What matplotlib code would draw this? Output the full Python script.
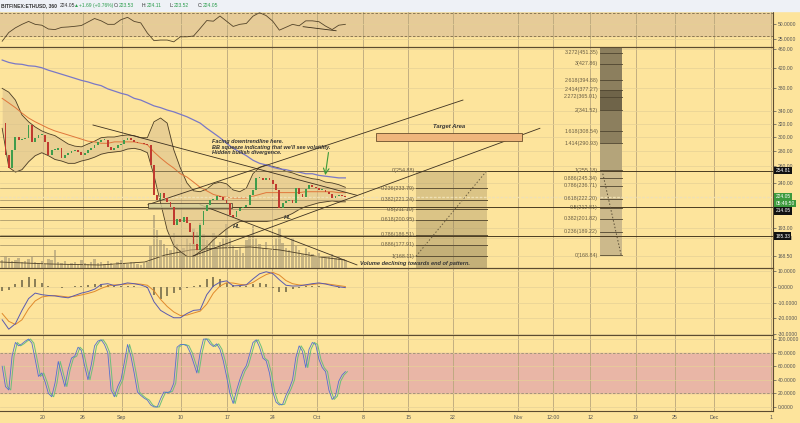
import matplotlib
matplotlib.use('Agg')
import matplotlib.pyplot as plt
import matplotlib.transforms as mtransforms
from matplotlib.patches import Rectangle
from matplotlib.ticker import FixedLocator, FixedFormatter, NullLocator
import numpy as np

plt.rcParams['font.family'] = ['Liberation Sans', 'DejaVu Sans']

# ---------------- data ----------------
# 12h candles, day 0 = Sep 1
closes = [321, 275, 258, 282, 300, 296, 297, 299, 318, 293,
          299, 303, 303, 293, 275, 282, 282, 284, 271, 275,
          278, 280, 282, 279, 275, 278, 282, 285, 289, 293,
          296, 296, 286, 282, 285, 288, 290, 296, 299, 296,
          293, 291, 291, 290, 288, 262, 226, 221, 229, 223,
          219, 214, 196, 201, 199, 203, 198, 189, 178, 173,
          196, 209, 216, 221, 221, 225, 224, 221, 218, 205,
          203, 209, 213, 214, 216, 226, 232, 246, 246, 244,
          246, 243, 239, 232, 213, 218, 220, 221, 218, 234,
          227, 224, 233, 238, 235, 234, 232, 232, 230, 227,
          223, 225, 226, 225, 224.05]
volume = [8, 12, 10, 7, 8, 10, 6, 7, 9, 11, 6,
          5, 7, 4, 9, 8, 18, 6, 5, 7, 4,
          5, 6, 4, 8, 5, 4, 6, 9, 5, 6,
          4, 7, 5, 3, 6, 8, 5, 4, 6, 5, 4, 3, 5, 6,
          22, 53, 38, 28, 24, 20, 18, 35, 24, 18, 20, 30, 25, 40, 36, 45,
          34, 28, 24, 35, 20, 26, 30, 44, 30, 22, 18, 20, 15, 28, 32, 42, 30, 24, 20, 26,
          18, 22, 30, 40, 25, 20, 18, 30, 22, 18, 14, 20, 16, 14, 12, 15, 12, 10, 12, 14, 10, 12, 9, 8]
stoch_k = [60, 30, 25, 75, 95, 90, 93, 97, 100, 94,
           70, 45, 50, 37, 20, 15, 35, 67, 48, 30,
           55, 72, 75, 88, 83, 60, 40, 62, 90, 97,
           99, 92, 80, 25, 15, 30, 40, 65, 92, 75,
           50, 22, 17, 13, 10, 3, 0, 0, 12, 22,
           21, 23, 35, 88, 92, 92, 90, 80, 65, 50,
           80, 100, 100, 93, 89, 93, 85, 68, 45, 20,
           5, 24, 40, 53, 61, 78, 95, 99, 88, 72,
           68, 50, 22, 7, 3, 4, 17, 27, 40, 73,
           90, 82, 58, 85, 95, 92, 70, 58, 52, 25,
           11, 16, 38, 47, 52]

# daily samples, day -18 .. 34
bb_upper = [380, 373, 359, 334, 323, 315, 309, 305, 302, 296, 290, 287, 286, 290,
            294, 299, 300, 300, 302, 303, 302, 299, 299, 323, 329, 321, 282, 258,
            240, 231, 230, 233, 239, 241, 239, 232, 230, 234, 251, 259, 262, 260,
            258, 254, 252, 249, 247, 245, 244, 241, 240, 238, 235]
bb_lower = [313, 259, 253, 256, 266, 274, 278, 274, 269, 267, 264, 264, 267, 269,
            272, 276, 278, 279, 280, 283, 284, 282, 278, 249, 218, 191, 177, 172,
            168, 168, 172, 176, 182, 187, 192, 196, 199, 199, 199, 199, 199, 200,
            202, 204, 207, 211, 214, 216, 218, 219, 220, 219, 219]
ema_line = [362, 354, 346, 337, 329, 323, 318, 313, 309, 306, 303, 300, 297, 294,
            293, 291, 291, 293, 293, 293, 293, 291, 289, 279, 271, 264, 258, 251,
            247, 241, 235, 231, 227, 225, 224, 223, 223, 223, 225, 227, 229, 229,
            229, 229, 229, 229, 230, 230, 230, 230, 230, 229, 229]
ma200 = [436, 431, 428, 427, 424, 423, 420, 415, 411, 407, 403, 399, 395, 392,
         388, 385, 379, 375, 371, 368, 362, 359, 354, 349, 346, 342, 339, 335,
         331, 326, 321, 313, 306, 299, 291, 284, 279, 274, 268, 264, 262, 259,
         257, 256, 254, 253, 251, 251, 249, 248, 247, 246, 246]
macd_line = [-21, -27, -23.5, -15, -7.5, -4, -5, -5.5, -5.8, -6.5, -7, -5.5, -4, -3,
             -1.5, 1.5, 2, 0.8, 1.5, 2.5, 2, 1.2, -0.3, -9.5, -15, -17.5, -19.7, -19.7,
             -17, -15, -14.6, -5, 0.5, 3, 3.8, 0.6, 0.8, 1.3, 5, 8.3, 9.6, 8.5,
             4.5, 1, 0.5, 0.6, 1.3, 2, 2.5, 1.8, 0.8, 0, -0.5]
macd_signal = [-17, -22, -24, -21, -14, -9, -6.5, -5.8, -5.6, -6, -6.5, -6, -5.2, -4.2,
               -3, -1, 0.5, 1.2, 1.4, 1.8, 2, 1.7, 1, -2.5, -8, -12.5, -16, -18.3,
               -18, -16.7, -15.5, -11, -4, 0.5, 2.6, 2.4, 1.6, 1.2, 2.8, 5.5, 7.8, 9.2,
               7.5, 4, 2, 1.2, 1, 1.5, 2, 2, 1.4, 0.8, 0.2]
macd_hist = [-2.5, -2, 2, 4.5, 6.5, 5, 2.5, 0.5, -0.3, -0.5, -0.3, 0.4, 0.8, 1,
             1.5, 2, 1, 0.5, 0.6, 0.6, 0.3, 0, -0.8, -5, -7.5, -6, -4, -2,
             -1, 0.5, 1, 5, 6.5, 5, 2.5, 1, 0.5, 0.5, 2, 2.5, 1.5, -1,
             -3, -3, -1.5, -0.5, 0.4, 0.6, 0.5, 0.2, -0.3, -0.5, -0.4]
rsi = [21, 36, 44, 50, 55, 50, 48.5, 42, 41, 44.8, 45.5, 46.6, 48, 54,
       60, 56, 50, 50, 58, 62, 55, 52.5, 35, 22, 23, 23, 20, 28.6,
       28.6, 30, 43, 56.5, 55.4, 64.3, 55.4, 46.4, 50, 51.5, 64, 70, 65, 55.4,
       40, 45, 50, 47.5, 56, 56, 54.5, 47, 41, 48.5, 50]

vol_ma_days = [-18.3, -10.8, -3.2, 3.6, 6.7, 10.5, 15.0, 19.6, 24.1, 30.2, 33.9]
vol_ma = [6, 4, 3, 6, 13, 18, 20, 21, 18, 11, 8]

fib1_levels = ['0', '0.236', '0.382', '0.5', '0.618', '0.786', '0.886', '1']
fib1_prices = [254.88, 233.79, 221.24, 211.10, 200.95, 186.51, 177.91, 168.11]
fib2_levels = ['3.272', '3', '2.618', '2.414', '2.272', '2', '1.618', '1.414',
               '1', '0.886', '0.786', '0.618', '0.5', '0.382', '0.236', '0']
fib2_prices = [451.35, 427.86, 394.88, 377.27, 365.01, 341.52, 308.54, 290.93,
               255.18, 245.34, 236.71, 222.20, 212.81, 201.82, 189.22, 168.84]

tick_days = [-11.8, -5.8, 0.1, 9.1, 16.1, 22.9, 29.7, 36.7, 43.5, 50.3,
             60.2, 65.5, 71.1, 78.0, 83.9, 89.9, 98.5]
tick_labels = ['20', '26', 'Sep', '10', '17', '24', 'Oct', '8', '15', '22',
               'Nov', '12:00', '12', '19', '25', 'Dec', '1']
price_ticks = [460, 420, 380, 340, 320, 300, 280, 260, 240, 193, 183.5, 168.5, 158.5]

# ---------------- styling ----------------
BG = '#fde49c'
TAN = '#e6cb98'
PINK = '#e9b6a6'
EDGE = '#5c4c30'
TXT = '#555555'
XMIN, XMAX = -18.33, 98.8
W = 773 / 800
H = 423

closes = np.array(closes)
cdays = -18 + 0.5 * np.arange(len(closes))
ddays = np.arange(-18, 35)

fig = plt.figure(figsize=(8, 4.23), dpi=100)
fig.patch.set_facecolor(BG)
fig.patches.append(Rectangle((0, 1 - 11 / H), 1, 11 / H, transform=fig.transFigure,
                             color='#eef1f6', zorder=0))

ax_rsi = fig.add_axes([0, 1 - 47 / H, W, 36 / H])
ax = fig.add_axes([0, 1 - 268 / H, W, 221 / H])
ax_macd = fig.add_axes([0, 1 - 335 / H, W, 67 / H])
ax_st = fig.add_axes([0, 1 - 411 / H, W, 76 / H])


def style(a):
    a.set_facecolor(BG)
    a.set_xlim(XMIN, XMAX)
    a.set_xticks(tick_days)
    a.set_xticklabels([])
    a.tick_params(axis='x', length=0)
    a.yaxis.tick_right()
    a.tick_params(axis='y', labelsize=3.6, colors=TXT, length=2, pad=1.2, width=0.5)
    a.grid(axis='x', color='#b9a77c', lw=0.6)
    a.grid(axis='y', color='#e5d095', lw=0.5)
    a.set_axisbelow(True)
    a.spines['left'].set_visible(False)
    for s in ['right', 'top', 'bottom']:
        a.spines[s].set_color(EDGE)
        a.spines[s].set_linewidth(0.8)


for a in [ax_rsi, ax, ax_macd, ax_st]:
    style(a)

# ---------------- RSI panel ----------------
ax_rsi.set_ylim(11.1, 72.9)
ax_rsi.axhspan(30, 70, color=TAN, zorder=0)
for lv in [70, 30]:
    ax_rsi.axhline(lv, color='#7d6b48', lw=0.6, ls=(0, (3, 2)))
ax_rsi.set_yticks([50, 25])
ax_rsi.set_yticklabels(['50.0000', '25.0000'])
ax_rsi.plot(ddays, rsi, color='#54442a', lw=0.6)
ax_rsi.plot([27.6, 32.6], [46, 39], color='#3a2e1a', lw=0.6)

# ---------------- price panel ----------------
ax_v = ax.twinx()
ax_v.set_ylim(0, 221)
ax_v.yaxis.set_visible(False)
for s in ax_v.spines.values():
    s.set_visible(False)
ax_v.set_facecolor(BG)
ax.set_zorder(ax_v.get_zorder() + 1)
ax.patch.set_visible(False)
ax_v.bar(cdays, volume, width=0.36, color='#b4a57d', alpha=0.75)
ax_v.plot(vol_ma_days, vol_ma, color='#4d3f26', lw=0.6)
ax_v.set_xlim(XMIN, XMAX)
ax_v.set_xticks(tick_days)
ax_v.grid(axis='x', color='#b9a77c', lw=0.6)
ax_v.set_axisbelow(True)

ax.yaxis.tick_right()
ax.set_yscale('log')
ax.set_ylim(158.8, 464.5)
ax.yaxis.set_major_locator(FixedLocator(price_ticks))
ax.yaxis.set_major_formatter(FixedFormatter(['%.2f' % p for p in price_ticks]))
ax.yaxis.set_minor_locator(NullLocator())
ax.tick_params(axis='y', labelsize=3.6, colors=TXT, length=2, pad=1.2, width=0.5)

# Bollinger bands, EMA and 200 MA
ax.fill_between(ddays, bb_lower, bb_upper, color='#d9bf8c', alpha=0.55, lw=0, zorder=1)
ax.plot(ddays, bb_upper, color='#4a3c24', lw=0.6, zorder=2)
ax.plot(ddays, bb_lower, color='#4a3c24', lw=0.6, zorder=2)
ax.plot(ddays, ema_line, color='#e0763a', lw=0.7, zorder=2)
ax.plot(ddays, ma200, color='#7a78c6', lw=0.9, zorder=2)

# horizontal levels
for p in [254.81, 214.05, 185.33]:
    ax.axhline(p, color='#4a3c22', lw=0.7, zorder=2)
ax.axhline(224.05, color='#efe0b4', lw=1.0, ls=(0, (2, 1)), zorder=2)

# fib retracement (left)
f1_lo, f1_hi = 44.7, 55.45
for lv, p in zip(fib1_levels, fib1_prices):
    ax.plot([XMIN, f1_lo], [p, p], color='#9c8b62', lw=0.5, zorder=2)
    ax.plot([f1_lo, f1_hi], [p, p], color='#5f5236', lw=0.7, zorder=3)
    ax.text(f1_lo - 0.2, p, '%s(%.2f)' % (lv, p), fontsize=3.9, color='#6a5e44',
            ha='right', va='center', zorder=4)
f1_bands = [(254.88, 200.95, 0.30), (200.95, 177.91, 0.40), (177.91, 158.8, 0.50)]
for top, bot, al in f1_bands:
    ax.add_patch(Rectangle((f1_lo, bot), f1_hi - f1_lo, top - bot, color='#8d7d55',
                           alpha=al, lw=0, zorder=1.5))
ax.plot([f1_lo, f1_hi], [fib1_prices[-1], fib1_prices[0]], color='#6a5d40', lw=0.7,
        ls=(0, (1.5, 2)), zorder=3)

# fib extension (right)
f2_lo, f2_hi = 72.6, 75.9
f2_bands = [(464.5, 377.27, '#8c7f5e'), (377.27, 341.52, '#6f6449'),
            (341.52, 290.93, '#8c7f5e'), (290.93, 255.18, '#b4a47a'),
            (255.18, 168.84, '#ccb98b')]
for top, bot, c in f2_bands:
    ax.add_patch(Rectangle((f2_lo, bot), f2_hi - f2_lo, top - bot, color=c, lw=0, zorder=1.5))
for lv, p in zip(fib2_levels, fib2_prices):
    ax.plot([f2_lo, f2_hi], [p, p], color='#4f4530', lw=0.6, zorder=3)
    ax.text(f2_lo - 0.3, p, '%s(%.2f)' % (lv, p), fontsize=3.9, color='#6a5e44',
            ha='right', va='center', zorder=4)
ax.plot([72.9, 75.8], [255.18, 168.84], color='#5a4e36', lw=0.7, ls=(0, (1.5, 2)), zorder=3)

# trendlines
trend = [((-4.24, 318), (35.76, 226)),
         ((4.09, 216), (51.82, 359)),
         ((10.91, 168.4), (63.48, 313)),
         ((11.97, 216), (35.76, 161.2))]
for (x0, y0), (x1, y1) in trend:
    ax.plot([x0, x1], [y0, y1], color='#3c3020', lw=0.6, zorder=3)

# boxes
ax.add_patch(Rectangle((38.6, 294), 22.2, 12, facecolor='#efb67c', edgecolor='#6a4e2c',
                       lw=0.6, zorder=3))
ax.text(49.7, 316, 'Target Area', fontsize=4.2, fontweight='bold', style='italic',
        color='#333', ha='center', va='center', zorder=4)
ax.add_patch(Rectangle((4.09, 213), 12.7, 5, facecolor='#d6cf9a', edgecolor='#3c3020',
                       alpha=0.8, lw=0.6, zorder=3))

# candles
opens = np.r_[closes[0], closes[:-1]]
up = closes >= opens
body_lo = np.minimum(opens, closes)
body_h = np.maximum(np.abs(closes - opens), 0.8)
ax.bar(cdays[up], body_h[up], bottom=body_lo[up], width=0.28, color='#3f9d4c', zorder=4)
ax.bar(cdays[~up], body_h[~up], bottom=body_lo[~up], width=0.28, color='#c03a2f', zorder=4)

# annotations
ax.text(13.8, 297, 'Facing downtrendline here.\nBB squeeze indicating that we\'ll see volatility.\nHidden bullish divergence.',
        fontsize=4.0, fontweight='bold', style='italic', color='#333', ha='left', va='top',
        linespacing=1.15, zorder=5)
ax.annotate('', xy=(30.9, 246), xytext=(31.5, 282),
            arrowprops=dict(arrowstyle='->', color='#3a9a3a', lw=0.8), zorder=5)
ax.text(17.6, 194, 'HL', fontsize=4.2, fontweight='bold', style='italic', color='#333',
        ha='center', va='center', zorder=5)
ax.text(25.3, 203, 'HL', fontsize=4.2, fontweight='bold', style='italic', color='#333',
        ha='center', va='center', zorder=5)
ax.text(36.2, 162.7, 'Volume declining towards end of pattern.', fontsize=4.1,
        fontweight='bold', style='italic', color='#333', ha='left', va='center', zorder=5)

# price tags on the right axis
tr = mtransforms.blended_transform_factory(ax.transAxes, ax.transData)
tags = [(254.81, '254.81', '#111111'), (224.6, '224.05', '#3d9a3d'),
        (217.5, '05:49:50', '#3d9a3d'), (209.5, '214.05', '#111111'),
        (185.33, '185.33', '#111111')]
for p, s, c in tags:
    ax.text(1.003, p, s, transform=tr, fontsize=3.5, color='white', ha='left', va='center',
            bbox=dict(boxstyle='square,pad=0.25', fc=c, ec='none'), zorder=6, clip_on=False)

# ---------------- MACD panel ----------------
ax_macd.set_ylim(-30.7, 12)
ax_macd.set_yticks([10, 0, -10, -20, -30])
ax_macd.set_yticklabels(['10.0000', '0.0000', '-10.0000', '-20.0000', '-30.0000'])
ax_macd.bar(ddays, macd_hist, width=0.3, color='#8c8058')
ax_macd.plot(ddays, macd_signal, color='#e08a2c', lw=0.7)
ax_macd.plot(ddays, macd_line, color='#5a5ab0', lw=0.7)

# ---------------- Stoch RSI panel ----------------
ax_st.set_ylim(-6, 106)
ax_st.axhspan(20, 80, color=PINK, zorder=0)
for lv in [80, 20]:
    ax_st.axhline(lv, color='#9b8a78', lw=0.6, ls=(0, (3, 2)))
ax_st.set_yticks([100, 80, 60, 40, 20, 0])
ax_st.set_yticklabels(['100.0000', '80.0000', '60.0000', '40.0000', '20.0000', '0.0000'])
ax_st.plot(cdays + 0.3, stoch_k, color='#6cbf7a', lw=0.7)
ax_st.plot(cdays, stoch_k, color='#5470d0', lw=0.6)
ax_st.set_xticklabels(tick_labels)
ax_st.tick_params(axis='x', labelsize=3.8, colors=TXT, pad=3)

# ---------------- header ----------------
hy = 1 - 5.5 / H
header = [("BITFINEX:ETHUSD, 360", 1, '#333333', 'bold'),
          ("224.05", 60, '#333333', 'normal'),
          ("\u25b2", 74, '#2e9e4f', 'normal'),
          ("+1.69 (+0.76%)", 79, '#2e9e4f', 'normal'),
          ("O:", 114, '#333333', 'normal'), ("223.53", 119, '#2e9e4f', 'normal'),
          ("H:", 142, '#333333', 'normal'), ("224.11", 147, '#2e9e4f', 'normal'),
          ("L:", 170, '#333333', 'normal'), ("223.52", 174, '#2e9e4f', 'normal'),
          ("C:", 198, '#333333', 'normal'), ("224.05", 203, '#2e9e4f', 'normal')]
for s, px, c, fw in header:
    fig.text(px / 800, hy, s, fontsize=3.6, color=c, fontweight=fw, ha='left', va='center')

fig.savefig('out.png', dpi=100, facecolor=fig.get_facecolor())
